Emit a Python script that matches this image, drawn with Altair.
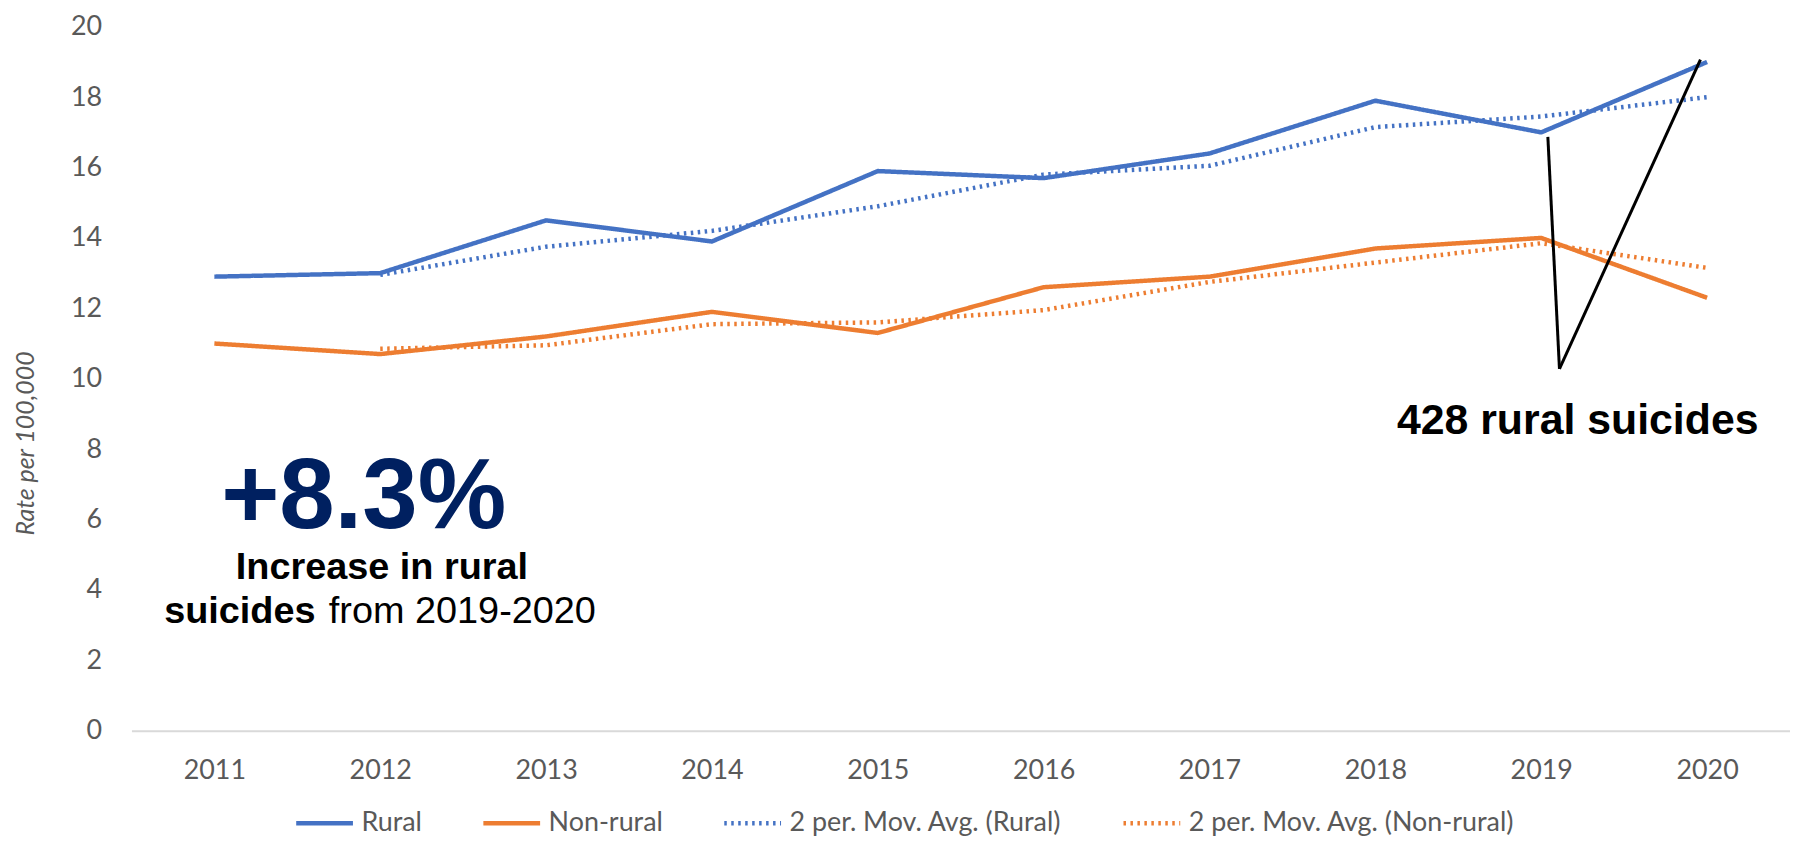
import altair as alt
import pandas as pd

# ---- data ----
years = [2011, 2012, 2013, 2014, 2015, 2016, 2017, 2018, 2019, 2020]
rural = [12.9, 13.0, 14.5, 13.9, 15.9, 15.7, 16.4, 17.9, 17.0, 19.0]
nonrural = [11.0, 10.7, 11.2, 11.9, 11.3, 12.6, 12.9, 13.7, 14.0, 12.3]
ma_years = [2012, 2013, 2014, 2015, 2016, 2017, 2018, 2019, 2020]
ma_rural = [12.95, 13.75, 14.2, 14.9, 15.8, 16.05, 17.15, 17.45, 18.0]
ma_nonrural = [10.85, 10.95, 11.55, 11.6, 11.95, 12.75, 13.3, 13.85, 13.15]

series_names = ["Rural", "Non-rural", "2 per. Mov. Avg. (Rural)", "2 per. Mov. Avg. (Non-rural)"]
series_colors = ["#4472C4", "#ED7D31", "#4472C4", "#ED7D31"]
y_ticks = [0, 2, 4, 6, 8, 10, 12, 14, 16, 18, 20]

rows = []
for name, xs, vs in [
    (series_names[0], years, rural),
    (series_names[1], years, nonrural),
    (series_names[2], ma_years, ma_rural),
    (series_names[3], ma_years, ma_nonrural),
]:
    for x, v in zip(xs, vs):
        rows.append({"year": x, "value": v, "series": name})
df = pd.DataFrame(rows)

# annotations
big_df = pd.DataFrame([{"x": 2011.90, "y": 5.77, "t": "+8.3%"}])
line1_df = pd.DataFrame([{"x": 2012.01, "y": 4.31, "t": "Increase in rural"}])
line2a_df = pd.DataFrame([{"x": 2011.61, "y": 3.07, "t": "suicides"}])
line2b_df = pd.DataFrame([{"x": 2011.69, "y": 3.07, "t": "from 2019-2020"}])
callout_df = pd.DataFrame([{"x": 2019.22, "y": 8.42, "t": "428 rural suicides"}])
seg_df = pd.DataFrame([
    {"x": 2019.11, "y": 10.28, "x2": 2019.04, "y2": 16.87},
    {"x": 2019.11, "y": 10.28, "x2": 2019.96, "y2": 19.07},
])

FONT = "Lato"
GRAY = "#595959"

xscale = alt.Scale(domain=[2010.5, 2020.5], nice=False, zero=False)
yscale = alt.Scale(domain=[0, 20], nice=False)

legend = alt.Legend(
    title=None, orient="none", direction="horizontal", columns=4,
    legendX=163, legendY=769,
    symbolType="stroke", symbolSize=3249,
    labelFont=FONT, labelFontSize=27, labelColor=GRAY, labelLimit=600,
    labelOffset=6, columnPadding=52, symbolOffset=0,
)

lines = alt.Chart(df).mark_line(strokeJoin="round").encode(
    x=alt.X("year:Q", scale=xscale,
            axis=alt.Axis(values=years, format="d", title=None, grid=False, ticks=False,
                          tickSize=0, labelPadding=27, labelFont=FONT, labelFontSize=27,
                          labelColor=GRAY, domainColor="#D9D9D9", domainWidth=2,
                          labelFlush=False)),
    y=alt.Y("value:Q", scale=yscale,
            axis=alt.Axis(values=y_ticks, title="Rate per 100,000", grid=False, ticks=False,
                          tickSize=0, domain=False, labelPadding=30, labelFont=FONT,
                          labelFontSize=27, labelColor=GRAY,
                          titleFont=FONT, titleFontSize=25, titleFontStyle="italic",
                          titleFontWeight="normal", titleColor=GRAY,
                          titleX=-106, titleY=418, titleAngle=270,
                          titleAlign="center", titleBaseline="middle")),
    color=alt.Color("series:N", scale=alt.Scale(domain=series_names, range=series_colors),
                    legend=legend, sort=series_names),
    strokeDash=alt.StrokeDash("series:N",
                              scale=alt.Scale(domain=series_names,
                                              range=[[1, 0], [1, 0], [2.5, 4.5], [2.5, 4.5]]),
                              legend=legend, sort=series_names),
    strokeWidth=alt.StrokeWidth("series:N",
                                scale=alt.Scale(domain=series_names, range=[4.5, 4.5, 2.5, 2.5]),
                                legend=legend, sort=series_names),
    order=alt.Order("year:Q"),
)

def text_layer(d, **kw):
    return alt.Chart(d).mark_text(**kw).encode(
        x=alt.X("x:Q", scale=xscale), y=alt.Y("y:Q", scale=yscale), text="t:N")

big = text_layer(big_df, font="Liberation Sans", fontSize=100, fontWeight="bold",
                 color="#002060", align="center", baseline="alphabetic")
l1 = text_layer(line1_df, font="Liberation Sans", fontSize=38, fontWeight="bold",
                color="#000000", align="center", baseline="alphabetic")
l2a = text_layer(line2a_df, font="Liberation Sans", fontSize=38, fontWeight="bold",
                 color="#000000", align="right", baseline="alphabetic")
l2b = text_layer(line2b_df, font="Liberation Sans", fontSize=38, fontWeight="normal",
                 color="#000000", align="left", baseline="alphabetic")
call = text_layer(callout_df, font="Liberation Sans", fontSize=43, fontWeight="bold",
                  color="#000000", align="center", baseline="alphabetic")

segs = alt.Chart(seg_df).mark_rule(color="#000000", strokeWidth=3).encode(
    x=alt.X("x:Q", scale=xscale), y=alt.Y("y:Q", scale=yscale),
    x2="x2:Q", y2="y2:Q")

chart = alt.layer(lines, segs, big, l1, l2a, l2b, call).properties(
    width=1666, height=707,
    background="white",
    autosize=alt.AutoSizeParams(type="none"),
    padding={"left": 124, "top": 17, "right": 0, "bottom": 112},
).configure_view(stroke=None)

chart.save("out.html", embed_options={"renderer": "svg", "actions": False})
